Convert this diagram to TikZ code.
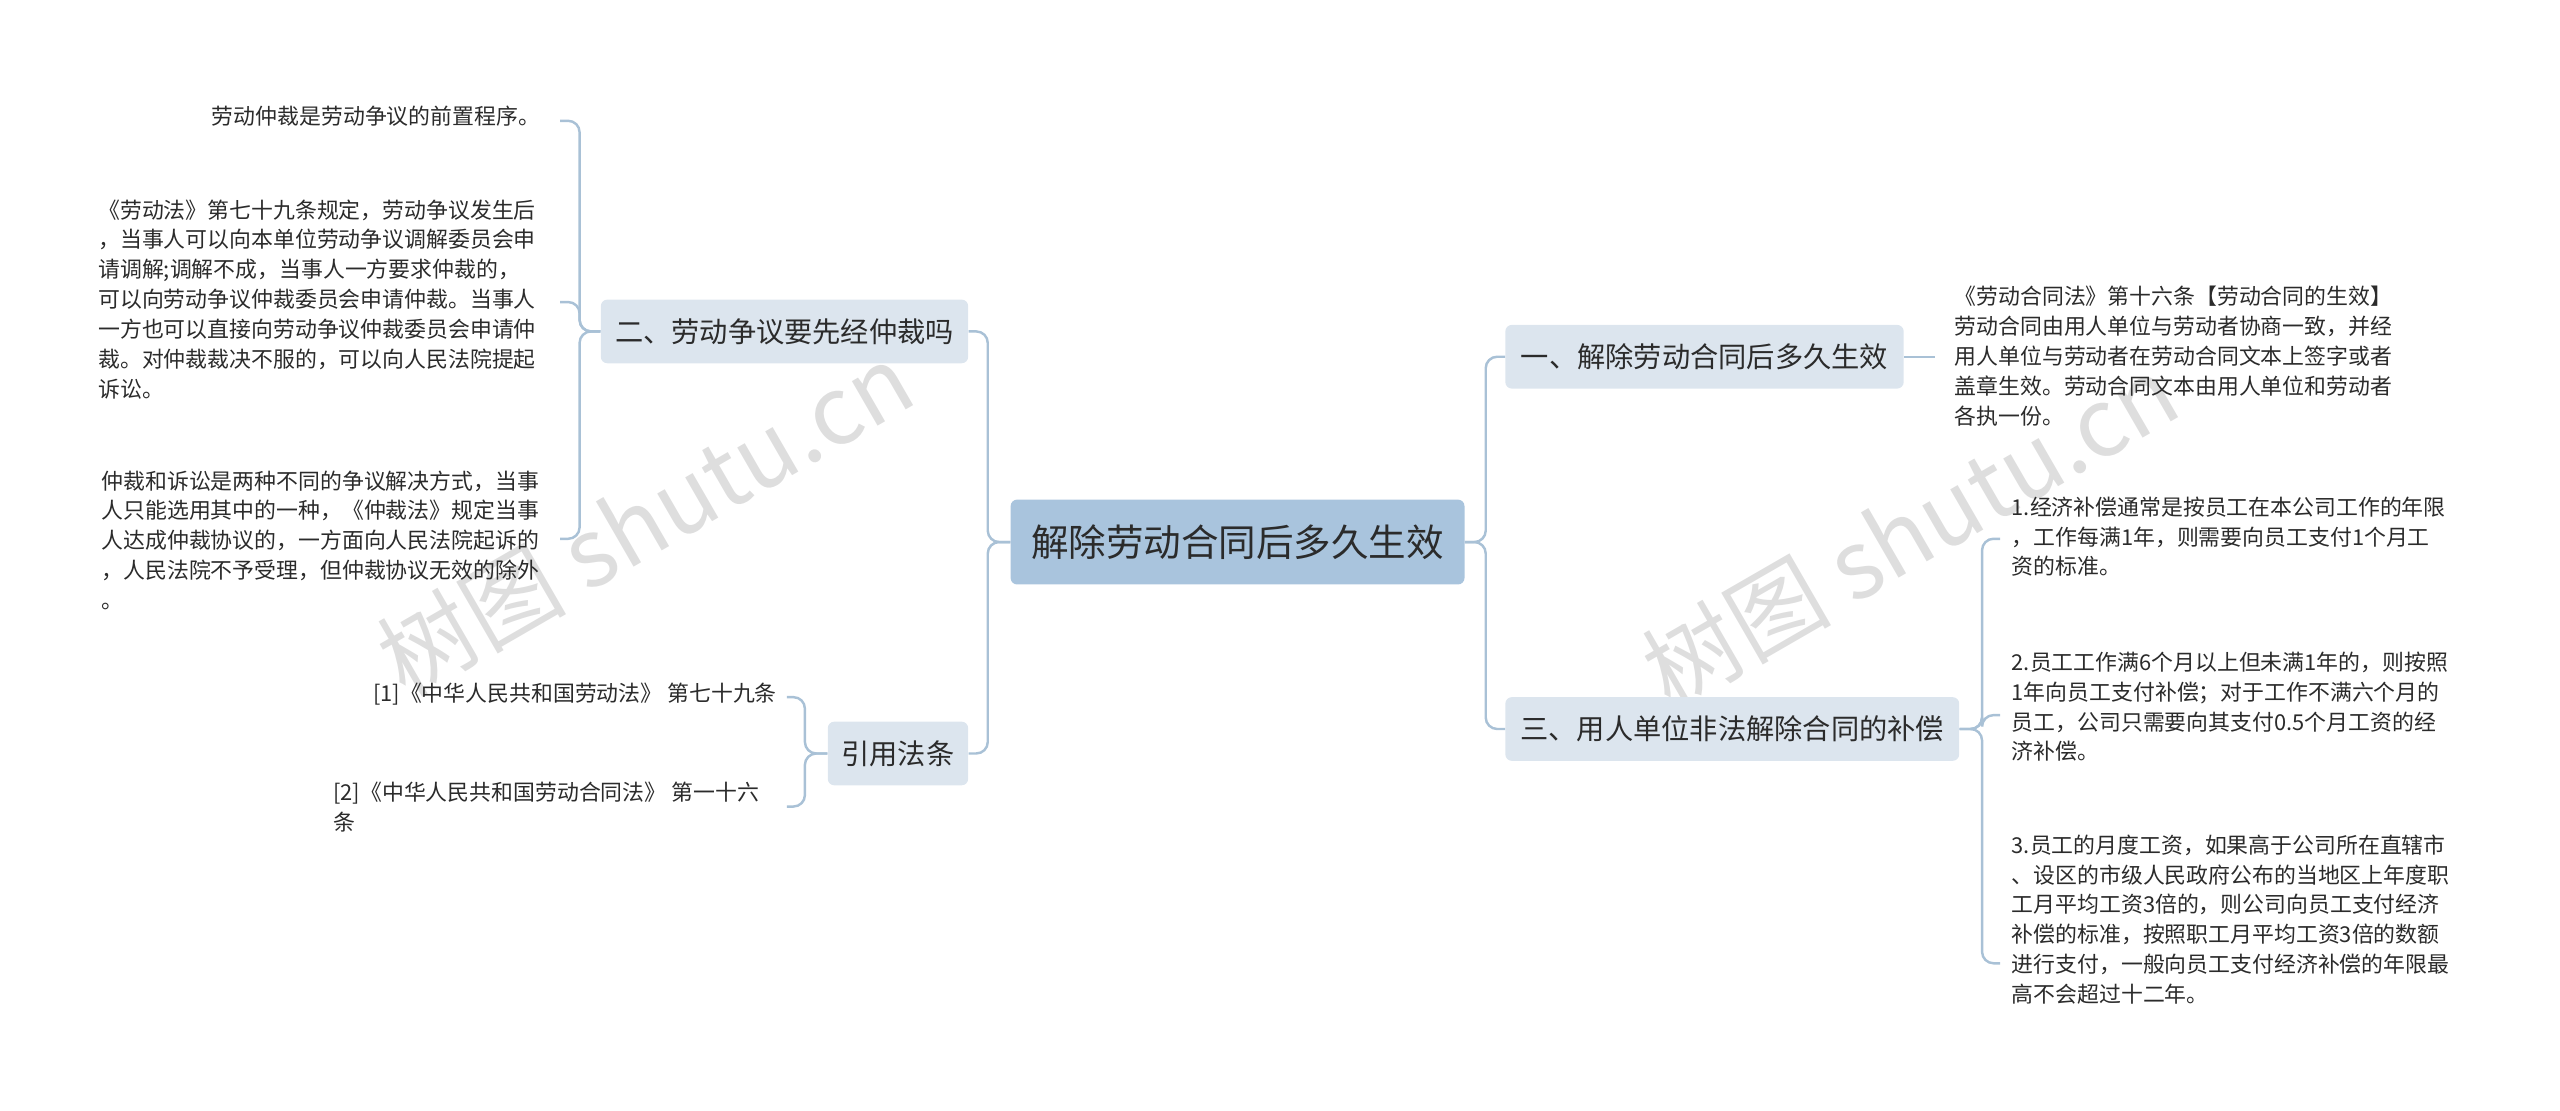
\documentclass[tikz,border=0pt]{standalone}
\usepackage{fontspec}
\setmainfont{Noto Sans CJK SC}
\definecolor{ln}{HTML}{A9C1D6}
\definecolor{cf}{HTML}{A9C4DD}
\definecolor{bf}{HTML}{DCE5EE}
\definecolor{tx}{HTML}{2B2B2B}
\begin{document}
\begin{tikzpicture}[x=1pt,y=-1pt,
 center/.style={fill=cf,rounded corners=4pt,minimum width=278pt,minimum height=52pt,font=\fontsize{23}{26}\selectfont,text=tx},
 branch/.style={fill=bf,rounded corners=4pt,minimum height=39pt,font=\fontsize{17.3}{20}\selectfont,text=tx,inner xsep=6pt},
 leaf/.style={anchor=north west,inner sep=0pt,align=left,font=\fontsize{13.4}{18.3}\selectfont,text=tx},
 conn/.style={draw=ln,line width=1.5pt,rounded corners=7pt},
 wm/.style={text=black!13,font=\fontsize{58}{58}\selectfont,rotate=30}]
\useasboundingbox (0,0) rectangle (1568,680);
\node[wm] at (395,318) {树图 shutu.cn};
\node[wm] at (1170,325) {树图 shutu.cn};
\node[center] (c) at (758,332) {解除劳动合同后多久生效};
\node[branch,minimum width=225pt] (b1) at (480.5,203) {二、劳动争议要先经仲裁吗};
\node[branch,minimum width=86pt] (b2) at (550,461.5) {引用法条};
\node[branch,minimum width=244pt] (b3) at (1044,218.5) {一、解除劳动合同后多久生效};
\node[branch,minimum width=278pt] (b4) at (1061,446.5) {三、用人单位非法解除合同的补偿};
\node[leaf,anchor=north east] (l1) at (331,65) {劳动仲裁是劳动争议的前置程序。};
\node[leaf] (l2) at (60,122) {《劳动法》第七十九条规定，劳动争议发生后\\，当事人可以向本单位劳动争议调解委员会申\\请调解;调解不成，当事人一方要求仲裁的，\\可以向劳动争议仲裁委员会申请仲裁。当事人\\一方也可以直接向劳动争议仲裁委员会申请仲\\裁。对仲裁裁决不服的，可以向人民法院提起\\诉讼。};
\node[leaf] (l3) at (62,288) {仲裁和诉讼是两种不同的争议解决方式，当事\\人只能选用其中的一种，《仲裁法》规定当事\\人达成仲裁协议的，一方面向人民法院起诉的\\，人民法院不予受理，但仲裁协议无效的除外\\。};
\node[leaf,anchor=north east] (l4) at (476,418) {[1]《中华人民共和国劳动法》 第七十九条};
\node[leaf] (l5) at (204,479) {[2]《中华人民共和国劳动合同法》 第一十六\\条};
\node[leaf] (r1) at (1197,175) {《劳动合同法》第十六条【劳动合同的生效】\\劳动合同由用人单位与劳动者协商一致，并经\\用人单位与劳动者在劳动合同文本上签字或者\\盖章生效。劳动合同文本由用人单位和劳动者\\各执一份。};
\node[leaf] (r2) at (1232,304) {1.经济补偿通常是按员工在本公司工作的年限\\，工作每满1年，则需要向员工支付1个月工\\资的标准。};
\node[leaf] (r3) at (1232,399) {2.员工工作满6个月以上但未满1年的，则按照\\1年向员工支付补偿；对于工作不满六个月的\\员工，公司只需要向其支付0.5个月工资的经\\济补偿。};
\node[leaf] (r4) at (1232,511) {3.员工的月度工资，如果高于公司所在直辖市\\、设区的市级人民政府公布的当地区上年度职\\工月平均工资3倍的，则公司向员工支付经济\\补偿的标准，按照职工月平均工资3倍的数额\\进行支付，一般向员工支付经济补偿的年限最\\高不会超过十二年。};
\coordinate (k1) at (343,74);
\coordinate (k2) at (343,185);
\coordinate (k3) at (343,330);
\coordinate (k4) at (482,427);
\coordinate (k5) at (482,494);
\coordinate (q1) at (1185,218.5);
\coordinate (q2) at (1225,330);
\coordinate (q3) at (1225,438);
\coordinate (q4) at (1225,590);
\foreach \b in {b1,b2} \draw[conn] (c.west) -- (605,332) |- (\b.east);
\foreach \b in {b3,b4} \draw[conn] (c.east) -- (910,332) |- (\b.west);
\foreach \k in {k1,k2,k3} \draw[conn] (b1.west) -- (355,203) |- (\k);
\foreach \k in {k4,k5} \draw[conn] (b2.west) -- (493,461.5) |- (\k);
\draw[conn] (b3.east) -- (q1);
\foreach \k in {q2,q3,q4} \draw[conn] (b4.east) -- (1214,446.5) |- (\k);
\end{tikzpicture}
\end{document}
